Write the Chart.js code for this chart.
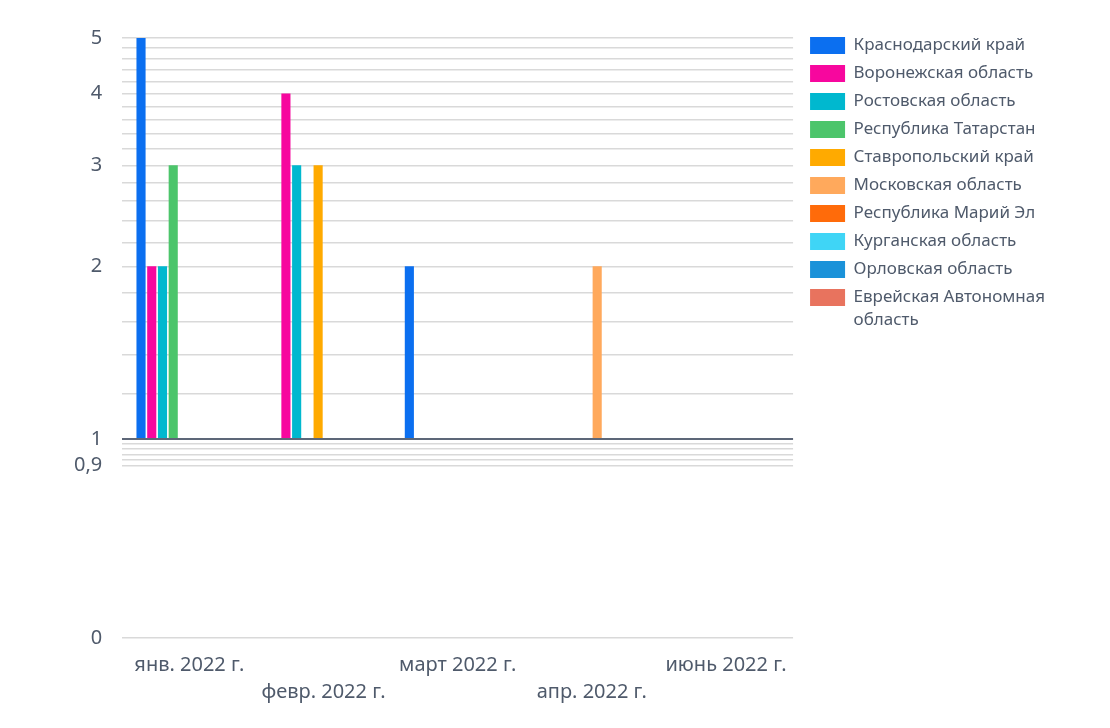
<!DOCTYPE html>
<html>
<head>
<meta charset="utf-8">
<script src="https://cdn.jsdelivr.net/npm/chart.js@4/dist/chart.umd.min.js"></script>
<style>
  html, body { margin: 0; padding: 0; background: #fff; }
  #wrap { width: 1110px; height: 728px; position: relative; }
</style>
</head>
<body>
<div id="wrap"><canvas id="regionChart"></canvas></div>
<script>
const months = ['янв. 2022 г.', 'февр. 2022 г.', 'март 2022 г.', 'апр. 2022 г.', 'июнь 2022 г.'];

const regions = [
  'Краснодарский край',
  'Воронежская область',
  'Ростовская область',
  'Республика Татарстан',
  'Ставропольский край',
  'Московская область',
  'Республика Марий Эл',
  'Курганская область',
  'Орловская область',
  'Еврейская Автономная область'
];

const colors = ['#0b6ff0', '#f7079e', '#00b8cf', '#4cc56b', '#ffaa00',
                '#ffa95c', '#ff6b0a', '#3fd5f6', '#1b92d9', '#e8735e'];

// one array per region, values by month (null = no record)
const krasnodar  = [5, null, 2, null, null];
const voronezh   = [2, 4, null, null, null];
const rostov     = [2, 3, null, null, null];
const tatarstan  = [3, null, null, null, null];
const stavropol  = [null, 3, null, null, null];
const moscowObl  = [null, null, null, 2, null];
const mariEl     = [null, null, null, null, 1];
const kurgan     = [null, null, 1, null, null];
const orel       = [null, null, null, 1, null];
const jewishAO   = [null, null, null, null, 1];

const seriesValues = [krasnodar, voronezh, rostov, tatarstan, stavropol,
                      moscowObl, mariEl, kurgan, orel, jewishAO];

const yTicks = [0, 0.9, 0.92, 0.94, 0.96, 0.98, 1, 1.2, 1.4, 1.6, 1.8,
                2, 2.2, 2.4, 2.6, 2.8, 3, 3.2, 3.4, 3.6, 3.8,
                4, 4.2, 4.4, 4.6, 4.8, 5];
const yLabeled = [0, 0.9, 1, 2, 3, 4, 5];

const textColor = '#4f5a6b';

function wrapLabel(s, maxChars) {
  if (s.length <= maxChars) return s;
  const cut = s.lastIndexOf(' ', maxChars);
  return [s.slice(0, cut), s.slice(cut + 1)];
}

// blank strip used only as spacing in the layout
function spacer(position, size) {
  return {
    type: 'linear',
    position,
    grid: { display: false },
    border: { display: false },
    ticks: { display: false },
    afterFit(scale) {
      if (position === 'top') scale.height = size;
      else scale.width = size;
    }
  };
}

const datasets = regions.map((name, i) => ({
  label: name,
  data: seriesValues[i],
  backgroundColor: colors[i],
  borderWidth: 0,
  base: 1,
  categoryPercentage: 0.8,
  barPercentage: 0.85
}));

new Chart(document.getElementById('regionChart'), {
  type: 'bar',
  data: { labels: months, datasets },
  options: {
    responsive: true,
    maintainAspectRatio: false,
    animation: false,
    layout: { padding: { top: 26, left: 54, right: 55, bottom: 16 } },
    plugins: {
      tooltip: { enabled: false },
      legend: {
        position: 'right',
        align: 'start',
        maxWidth: 320,
        labels: {
          boxWidth: 35,
          boxHeight: 17,
          padding: 11,
          color: textColor,
          font: { family: 'Noto Sans', size: 17, lineHeight: 1.35 },
          generateLabels(chart) {
            const items = Chart.defaults.plugins.legend.labels.generateLabels(chart);
            items.forEach(it => { it.text = wrapLabel(it.text, 22); });
            return items;
          }
        }
      }
    },
    scales: {
      x: {
        grid: { display: false },
        border: { display: false },
        ticks: {
          color: textColor,
          font: { family: 'Noto Sans', size: 20, lineHeight: 1.35 },
          maxRotation: 0,
          autoSkip: false,
          padding: 6,
          callback(value, index) {
            const lbl = this.getLabelForValue(value);
            return index % 2 ? ['', lbl] : lbl;
          }
        }
      },
      y: {
        type: 'logarithmic',
        min: 0.45,
        max: 5,
        afterBuildTicks(axis) {
          axis.ticks = yTicks.map(v => ({ value: v }));
        },
        border: { display: false },
        grid: {
          drawTicks: false,
          color: c => (c.tick && c.tick.value === 1 ? '#5d6778' : '#d9d9d9'),
          lineWidth: c => (c.tick && c.tick.value === 1 ? 2 : 1.5)
        },
        ticks: {
          color: textColor,
          font: { family: 'Noto Sans', size: 20 },
          autoSkip: false,
          padding: 20,
          callback(value) {
            return yLabeled.includes(value) ? String(value).replace('.', ',') : '';
          }
        }
      },
      gapRight: spacer('right', 6),
      gapTop: spacer('top', 12)
    }
  }
});
</script>
</body>
</html>
